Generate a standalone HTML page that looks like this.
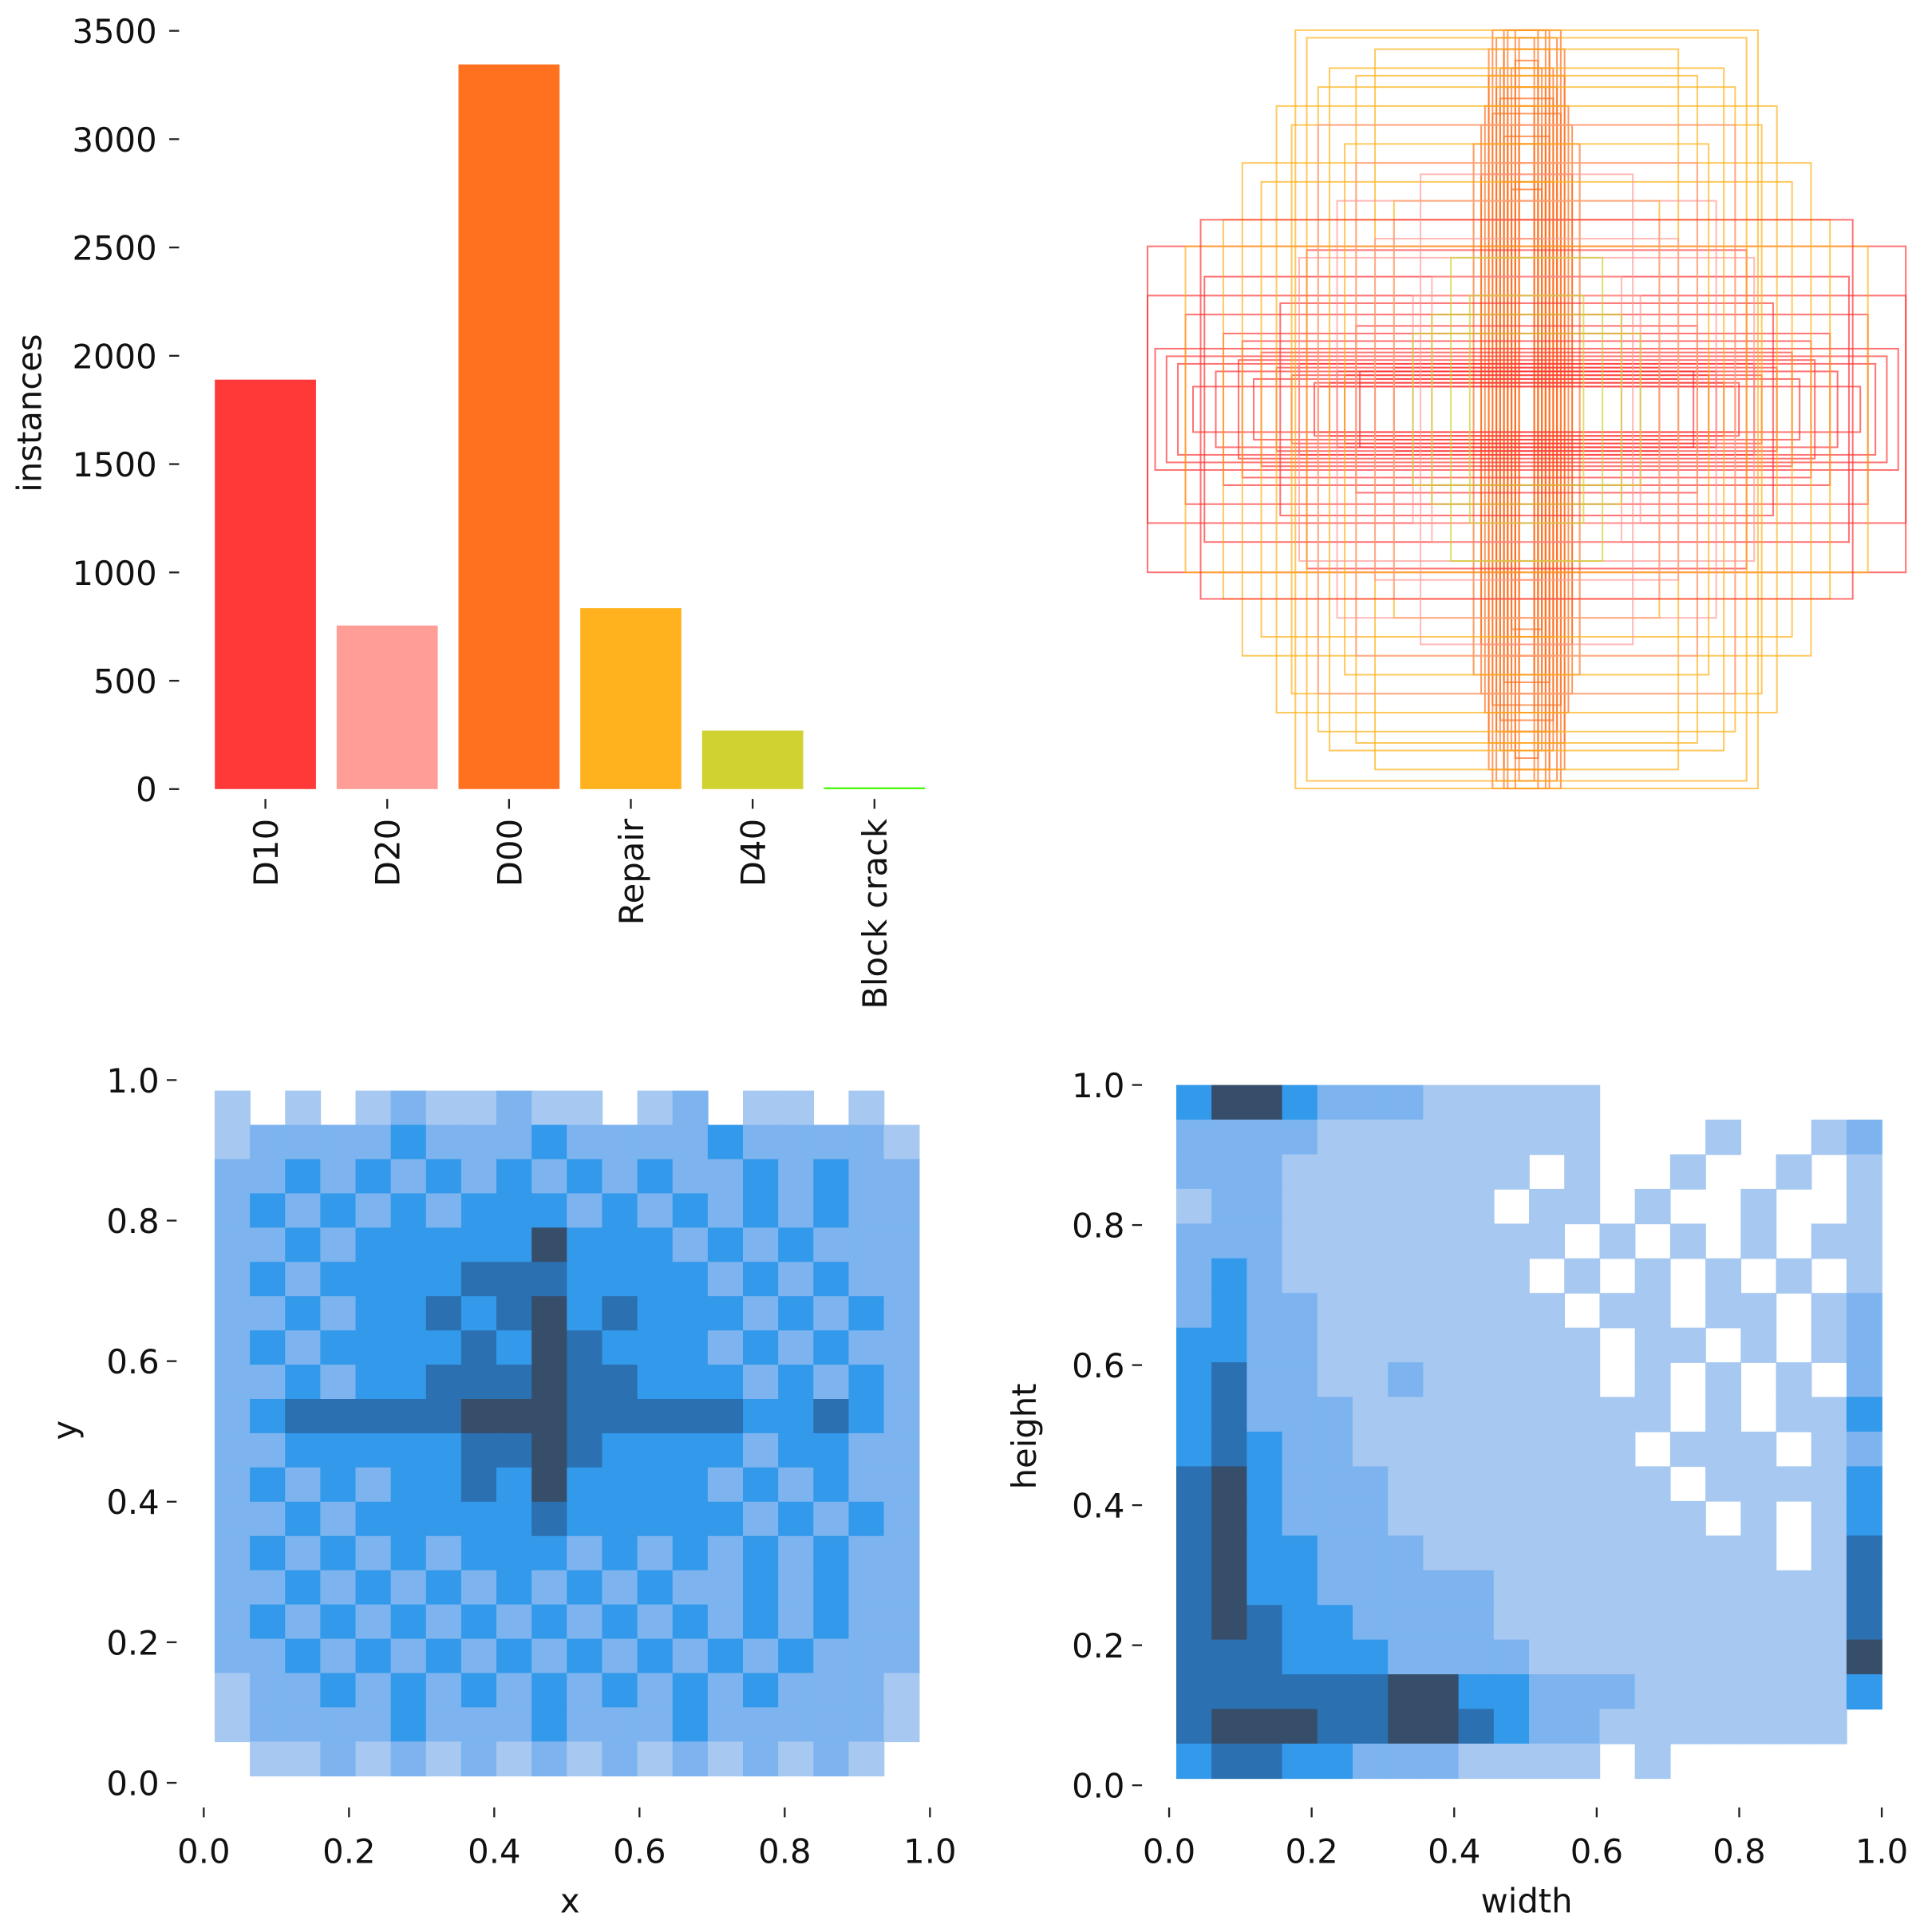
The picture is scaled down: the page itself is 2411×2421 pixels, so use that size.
<!DOCTYPE html>
<html><head><meta charset="utf-8"><style>
html,body{margin:0;padding:0;background:#fff;}
svg{display:block;font-family:"DejaVu Sans","Liberation Sans",sans-serif;}
</style></head><body>
<svg id="chart" width="2411" height="2421" viewBox="0 0 1560 1567" xmlns="http://www.w3.org/2000/svg">
<g id="bar"></g>
<g id="boxes"></g>
<g id="xy"></g>
<g id="wh"></g>
</svg>
<script>
const categories = ["D10","D20","D00","Repair","D40","Block crack"];
const counts = [1890, 755, 3345, 835, 270, 8];
const barColors = ["#FF3838","#FF9D97","#FF701F","#FFB21D","#CFD231","#48F90A"];
const yTicks = [0,500,1000,1500,2000,2500,3000,3500];

// boxes: normalized width, height, class index
const boxW = [0.02,0.03,0.04,0.05,0.06,0.07,0.08,0.10,0.12,0.03,0.05,0.09,0.04,0.06,0.11,0.14,0.02,0.08,
  0.03,0.04,0.05,0.06,0.07,0.08,0.09,0.10,0.02,0.03,0.05,0.07,0.04,0.06,0.08,0.12,
  0.40,0.50,0.60,0.70,0.80,0.90,1.00,0.55,0.75,0.95,0.45,0.65,0.85,1.00,0.35,0.58,
  0.52,0.62,0.72,0.82,0.92,0.98,0.48,0.56,0.66,0.76,0.88,0.44,
  0.61,0.55,0.48,0.70,0.80,0.90,0.40,0.35,0.62,0.52,0.75,0.66,0.58,0.45,
  0.30,0.40,0.50,0.60,0.25,0.45,0.35,0.55,0.86,0.28,
  0.20,0.30,0.15,0.25];
const boxH = [0.80,1.00,0.90,0.70,1.00,0.60,0.85,0.95,0.75,0.50,0.65,1.00,0.45,0.55,0.80,0.70,0.98,0.40,
  0.60,0.75,0.85,0.95,0.90,0.65,0.78,0.88,0.70,0.92,1.00,0.82,0.58,0.72,0.98,0.62,
  0.08,0.10,0.12,0.15,0.20,0.25,0.30,0.06,0.18,0.14,0.22,0.28,0.35,0.43,0.11,0.42,
  0.07,0.09,0.08,0.10,0.12,0.16,0.09,0.07,0.11,0.13,0.06,0.10,
  1.00,0.85,0.70,0.60,0.50,0.43,0.95,0.55,0.75,0.90,0.65,0.80,0.98,0.88,
  0.30,0.45,0.55,0.40,0.35,0.65,0.50,0.75,0.50,0.62,
  0.40,0.20,0.30,0.25];
const boxCls = [2,2,2,2,2,2,2,2,2,2,2,2,2,2,2,2,2,2,
  2,2,2,2,2,2,2,2,2,2,2,2,2,2,2,2,
  0,0,0,0,0,0,0,0,0,0,0,0,0,0,0,0,
  0,0,0,0,0,0,0,0,0,0,0,0,
  3,3,3,3,3,3,3,3,3,3,3,3,3,3,
  1,1,1,1,1,1,1,1,0,1,
  4,4,4,4];

// xy histogram density levels (rows top y=1 -> bottom y=0, cols x=0 -> 1)
const xyRows = [
 "10101211211012011010",
 "12222322232222322221",
 "22323232323232232322",
 "23232323332323232322",
 "22323333353332323222",
 "23233334443333232322",
 "22323343453433323232",
 "23233334354333232322",
 "22323344454433323232",
 "23444445554444433432",
 "22333334454333323322",
 "23232334353333232322",
 "22323333343333323232",
 "23232323332323232322",
 "22323232323232232322",
 "23232323232323232322",
 "22323232323232323222",
 "12232323232323232221",
 "12222322232223222221",
 "01121212121212121210"];
const whRows = [
 "35532221111100000000",
 "22221111111100010012",
 "22211111110100100101",
 "12211111101101001001",
 "22211111111010101011",
 "23211111110101010101",
 "23221111111011011012",
 "33221111111101101012",
 "34221121111101010102",
 "34222111111111010113",
 "34322111111110111012",
 "45322211111111011113",
 "45322211111111101013",
 "45332221111111111014",
 "45332222211111111114",
 "45433222211111111114",
 "44433322221111111115",
 "44444455332221111113",
 "45554455432211111110",
 "34433222111101000000"];
const levelColors = ["#ffffff","#a6c8f1","#7db4ef","#3399ea","#2b70b0","#374e6a"];
const fracTicks = [0,0.2,0.4,0.6,0.8,1.0];

const NS="http://www.w3.org/2000/svg";
function mk(tag, parent, attrs){const e=document.createElementNS(NS,tag);for(const k in attrs)e.setAttribute(k,attrs[k]);parent.appendChild(e);return e;}
function txt(parent,x,y,s,anchor,size,rot){const t=mk("text",parent,{x:x,y:y,"text-anchor":anchor,"font-size":size,fill:"#111"});if(rot)t.setAttribute("transform",`rotate(${rot} ${x} ${y})`);t.textContent=s;return t;}

// ---- Bar chart ----
const bar=document.getElementById("bar");
const by0=640, by1=25, bMax=3500;
const yB=v=>by0-(v/bMax)*(by0-by1);
const xB=i=>215+i*98.8;
yTicks.forEach(v=>{
  const l=mk("line",bar,{x1:137,x2:145,y1:yB(v),y2:yB(v),stroke:"#222","stroke-width":1.5});
  
  
  const t=txt(bar,127,yB(v)+10,String(v),"end",27);
  
  
});
categories.forEach((c,i)=>{
  const r=mk("rect",bar,{x:xB(i)-41,y:yB(counts[i]),width:82,height:Math.max(1.5,by0-yB(counts[i])),fill:barColors[i]});
  
  
  const l=mk("line",bar,{x1:xB(i),x2:xB(i),y1:648,y2:656,stroke:"#222","stroke-width":1.5});
  
  
  const t=txt(bar,xB(i)+10,664,c,"end",27,-90);
  
  
});
const yl=txt(bar,33,335,"instances","middle",27,-90);



// ---- Boxes ----
const bx=document.getElementById("boxes");
const bcx=1238, bcy=332, bs=615;
boxW.forEach((w,i)=>{
  const h=boxH[i];
  const r=mk("rect",bx,{x:bcx-w*bs/2,y:bcy-h*bs/2,width:w*bs,height:h*bs,fill:"none",stroke:barColors[boxCls[i]],"stroke-width":1.3,"stroke-opacity":0.7});
  
  
});

// ---- Histograms ----
function hist(g, rows, X0, X1, Y0, Y1, ext, xLabel, yLabel, xLabPos, yLabPos){
  const sx=v=>X0+v*(X1-X0), sy=v=>Y0-v*(Y0-Y1);
  const n=rows.length, m=rows[0].length;
  const cw=(ext[1]-ext[0])/m, ch=(ext[3]-ext[2])/n;
  rows.forEach((row,ri)=>row.split("").forEach((ch0,ci)=>{
    const lv=+ch0;
    if(!lv) return;
    const xa=sx(ext[0]+ci*cw), xb=sx(ext[0]+(ci+1)*cw);
    const ya=sy(ext[3]-ri*ch), yb=sy(ext[3]-(ri+1)*ch);
    const r=mk("rect",g,{x:xa,y:ya,width:xb-xa+0.5,height:yb-ya+0.5,fill:levelColors[lv]});
    
    
  }));
  fracTicks.forEach(v=>{
    const l=mk("line",g,{x1:sx(v),x2:sx(v),y1:1466,y2:1474,stroke:"#222","stroke-width":1.5});
    
    
    const t=txt(g,sx(v),1511,v.toFixed(1),"middle",27);
    
    
    const l2=mk("line",g,{x1:X0-30,x2:X0-22,y1:sy(v),y2:sy(v),stroke:"#222","stroke-width":1.5});
    
    
    const t2=txt(g,X0-36,sy(v)+10,v.toFixed(1),"end",27);
    
    
  });
  const xt=txt(g,xLabPos,1551,xLabel,"middle",27);
  
  
  const yt=txt(g,yLabPos[0],yLabPos[1],yLabel,"middle",27,-90);
  
  
}
hist(document.getElementById("xy"), xyRows, 165, 754, 1446, 876, [0.015,0.985,0.01,0.985], "x", "y", 462, [62,1160]);
hist(document.getElementById("wh"), whRows, 948, 1526, 1448, 880, [0.01,1.0,0.01,1.0], "width", "height", 1238, [840,1165]);
</script>
</body></html>
